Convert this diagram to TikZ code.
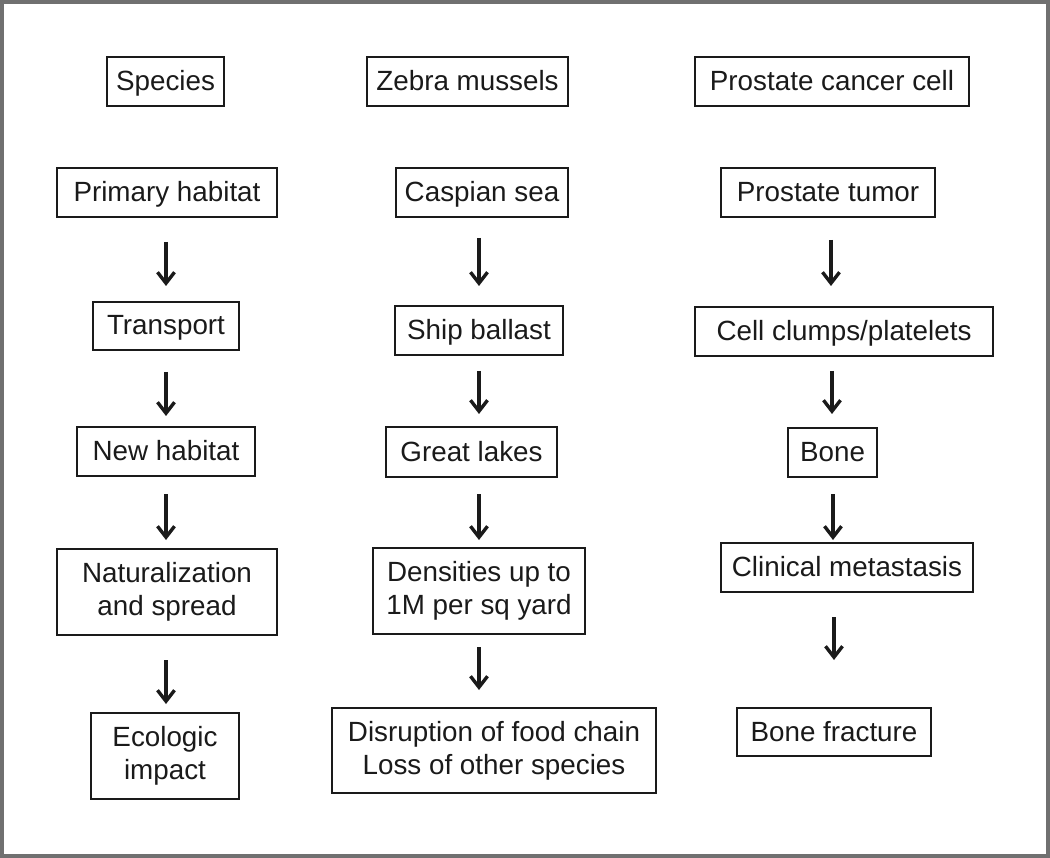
\documentclass[tikz,border=0pt]{standalone}
\usepackage{fontspec}
\setmainfont{Liberation Sans}
\usetikzlibrary{arrows.meta}
\definecolor{framegray}{HTML}{707070}
\definecolor{ink}{HTML}{1A1A1A}
\begin{document}
\begin{tikzpicture}[x=1pt,y=-1pt,
  bx/.style={draw=ink,line width=1.9pt,rectangle,inner sep=0pt,align=center,text=ink,
    font=\fontsize{27.8}{33}\selectfont},
  one/.style={text height=21pt,text depth=3pt},
  arr/.style={draw=ink,line width=3.2pt,-{Straight Barb[length=11pt,width=17pt,line width=3.4pt]}}]
\useasboundingbox (0,0) rectangle (1050,858);
\draw[framegray,line width=4pt] (2,2) rectangle (1048,856);
% column 1
\node[bx,one,minimum width=117,minimum height=49] (sp) at (165.5,81.5) {Species};
\node[bx,one,minimum width=220,minimum height=49] (ph) at (167,192.5) {Primary habitat};
\node[bx,one,minimum width=146,minimum height=48] (tr) at (166,326) {Transport};
\node[bx,one,minimum width=178,minimum height=49] (nh) at (166,451.5) {New habitat};
\node[bx,minimum width=220,minimum height=86] (ns) at (167,592) {Naturalization\\and spread};
\node[bx,minimum width=148,minimum height=86] (ei) at (165,756) {Ecologic\\impact};
% column 2
\node[bx,one,minimum width=201,minimum height=49] (zm) at (467.5,81.5) {Zebra mussels};
\node[bx,one,minimum width=172,minimum height=49] (cs) at (482,192.5) {Caspian sea};
\node[bx,one,minimum width=168,minimum height=49] (sb) at (479,330.5) {Ship ballast};
\node[bx,one,minimum width=171,minimum height=50] (gl) at (471.5,452) {Great lakes};
\node[bx,minimum width=212,minimum height=86] (de) at (479,591) {Densities up to\\1M per sq yard};
\node[bx,minimum width=324,minimum height=85] (di) at (494,750.5) {Disruption of food chain\\Loss of other species};
% column 3
\node[bx,one,minimum width=274,minimum height=49] (pc) at (832,81.5) {Prostate cancer cell};
\node[bx,one,minimum width=214,minimum height=49] (pt) at (828,192.5) {Prostate tumor};
\node[bx,one,minimum width=298,minimum height=49] (cc) at (844,331.5) {Cell clumps/platelets};
\node[bx,one,minimum width=89,minimum height=49] (bo) at (832.5,452.5) {Bone};
\node[bx,one,minimum width=252,minimum height=49] (cm) at (847,567.5) {Clinical metastasis};
\node[bx,one,minimum width=194,minimum height=48] (bf) at (834,732) {Bone fracture};
% arrow end points
\coordinate (a1s) at (166,242); \coordinate (a1e) at (166,286);
\coordinate (a2s) at (166,372); \coordinate (a2e) at (166,416);
\coordinate (a3s) at (166,494); \coordinate (a3e) at (166,540);
\coordinate (a4s) at (166,660); \coordinate (a4e) at (166,704);
\coordinate (b1s) at (479,238); \coordinate (b1e) at (479,286);
\coordinate (b2s) at (479,371); \coordinate (b2e) at (479,414);
\coordinate (b3s) at (479,494); \coordinate (b3e) at (479,540);
\coordinate (b4s) at (479,647); \coordinate (b4e) at (479,690);
\coordinate (c1s) at (831,240); \coordinate (c1e) at (831,286);
\coordinate (c2s) at (832,371); \coordinate (c2e) at (832,414);
\coordinate (c3s) at (833,494); \coordinate (c3e) at (833,540);
\coordinate (c4s) at (834,617); \coordinate (c4e) at (834,660);
\foreach \p in {a1,a2,a3,a4,b1,b2,b3,b4,c1,c2,c3,c4}
  \draw[arr] (\p s) -- (\p e);
\end{tikzpicture}
\end{document}
